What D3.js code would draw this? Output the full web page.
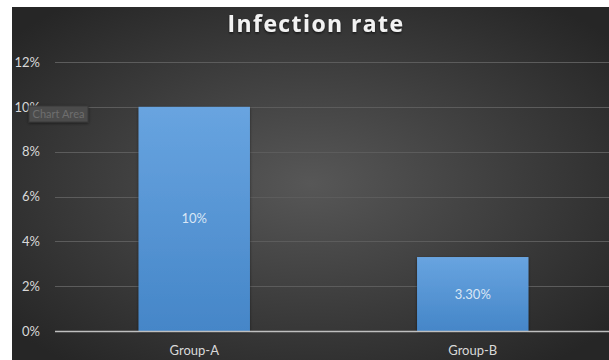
<!DOCTYPE html>
<html>
<head>
<meta charset="utf-8">
<script src="https://cdn.jsdelivr.net/npm/d3@7"></script>
<style>
  body { margin: 0; background: #fff; }
  .tick text { font-family: Lato, "Open Sans", sans-serif; }
</style>
</head>
<body>
<svg id="chart" width="609" height="360"></svg>
<script>
// data
var groups = ["Group-A", "Group-B"];
var rates = [0.10, 0.033];
var rateLabels = ["10%", "3.30%"];
var yTicks = [0, 0.02, 0.04, 0.06, 0.08, 0.10, 0.12];

var params = {
  svg: { width: 609, height: 360 },
  area: { x: 12, y: 7 },
  plot: { left: 55, right: 612, top: 62, bottom: 331 }
};

var svg = d3.select("#chart");
var defs = svg.append("defs");

// radial background like the Excel dark style
var bg = defs.append("radialGradient")
  .attr("id", "bg-grad")
  .attr("cx", "50%").attr("cy", "50%").attr("r", "65%");
bg.append("stop").attr("offset", "0%").attr("stop-color", "#575757");
bg.append("stop").attr("offset", "100%").attr("stop-color", "#262626");

var barGrad = defs.append("linearGradient")
  .attr("id", "bar-grad")
  .attr("x1", 0).attr("y1", 0).attr("x2", 0).attr("y2", 1);
barGrad.append("stop").attr("offset", "0%").attr("stop-color", "#68a4e0");
barGrad.append("stop").attr("offset", "100%").attr("stop-color", "#4586c8");

var shadow = defs.append("filter").attr("id", "shadow")
  .attr("x", "-20%").attr("y", "-20%").attr("width", "140%").attr("height", "140%");
shadow.append("feDropShadow")
  .attr("dx", 0).attr("dy", 1).attr("stdDeviation", 1.5)
  .attr("flood-color", "#000").attr("flood-opacity", 0.5);

var titleShadow = defs.append("filter").attr("id", "title-shadow");
titleShadow.append("feDropShadow")
  .attr("dx", 0).attr("dy", 1.5).attr("stdDeviation", 1)
  .attr("flood-color", "#000").attr("flood-opacity", 0.6);

svg.append("rect")
  .attr("x", params.area.x)
  .attr("y", params.area.y)
  .attr("width", params.svg.width - params.area.x)
  .attr("height", params.svg.height - params.area.y)
  .attr("fill", "url(#bg-grad)");

var x = d3.scaleBand()
  .domain(groups)
  .range([params.plot.left, params.plot.right])
  .paddingInner(0.6)
  .paddingOuter(0.3);

var y = d3.scaleLinear()
  .domain([0, 0.12])
  .range([params.plot.bottom, params.plot.top]);

// gridlines
svg.append("g")
  .selectAll("line")
  .data(yTicks.filter(function(d) { return d > 0; }))
  .enter()
  .append("line")
  .attr("x1", params.plot.left)
  .attr("x2", params.svg.width)
  .attr("y1", function(d) { return Math.round(y(d)) + 0.5; })
  .attr("y2", function(d) { return Math.round(y(d)) + 0.5; })
  .attr("stroke", "#5c5c5c")
  .attr("stroke-width", 1);

// y axis labels
var gy = svg.append("g")
  .attr("transform", "translate(" + 40 + ",0)")
  .call(d3.axisLeft(y).tickValues(yTicks).tickFormat(d3.format(".0%")).tickSize(0).tickPadding(0));
gy.select(".domain").remove();
gy.selectAll("text")
  .attr("fill", "#d9d9d9")
  .attr("font-size", 13)
  .attr("text-anchor", "end");

// bars
svg.append("g")
  .selectAll("rect")
  .data(rates)
  .enter()
  .append("rect")
  .attr("x", function(d, i) { return x(groups[i]); })
  .attr("y", function(d) { return y(d); })
  .attr("width", x.bandwidth())
  .attr("height", function(d) { return y(0) - y(d); })
  .attr("fill", "url(#bar-grad)")
  .attr("filter", "url(#shadow)");

// data labels
svg.append("g")
  .selectAll("text")
  .data(rates)
  .enter()
  .append("text")
  .attr("x", function(d, i) { return x(groups[i]) + x.bandwidth() / 2; })
  .attr("y", function(d) { return (y(d) + y(0)) / 2; })
  .attr("dy", "0.35em")
  .attr("text-anchor", "middle")
  .attr("fill", "#d9e6f5")
  .attr("font-family", "Lato, sans-serif")
  .attr("font-size", 13)
  .text(function(d, i) { return rateLabels[i]; });

// baseline
svg.append("line")
  .attr("x1", params.plot.left)
  .attr("x2", params.svg.width)
  .attr("y1", y(0) + 0.5)
  .attr("y2", y(0) + 0.5)
  .attr("stroke", "#bfbfbf")
  .attr("stroke-width", 1.5);

// x axis labels
var gx = svg.append("g")
  .attr("transform", "translate(0," + (y(0) + 15) + ")")
  .call(d3.axisBottom(x).tickSize(0).tickPadding(0));
gx.select(".domain").remove();
gx.selectAll("text")
  .attr("fill", "#d9d9d9")
  .attr("font-size", 13);

// title
svg.append("text")
  .attr("x", 316)
  .attr("y", 32)
  .attr("text-anchor", "middle")
  .attr("fill", "#f2f2f2")
  .attr("font-family", "'Open Sans', sans-serif")
  .attr("font-weight", "bold")
  .attr("font-size", 23)
  .attr("letter-spacing", 1.4)
  .attr("filter", "url(#title-shadow)")
  .text("Infection rate");

// leftover "Chart Area" tooltip from the screenshot
var tip = svg.append("g").attr("transform", "translate(29,106)");
tip.append("rect")
  .attr("width", 59)
  .attr("height", 16)
  .attr("fill", "#4b4b4b")
  .attr("stroke", "#3a3a3a")
  .attr("filter", "url(#shadow)");
tip.append("text")
  .attr("x", 29.5)
  .attr("y", 12)
  .attr("text-anchor", "middle")
  .attr("fill", "#6e6e6e")
  .attr("font-family", "Lato, sans-serif")
  .attr("font-size", 11)
  .text("Chart Area");
</script>
</body>
</html>
